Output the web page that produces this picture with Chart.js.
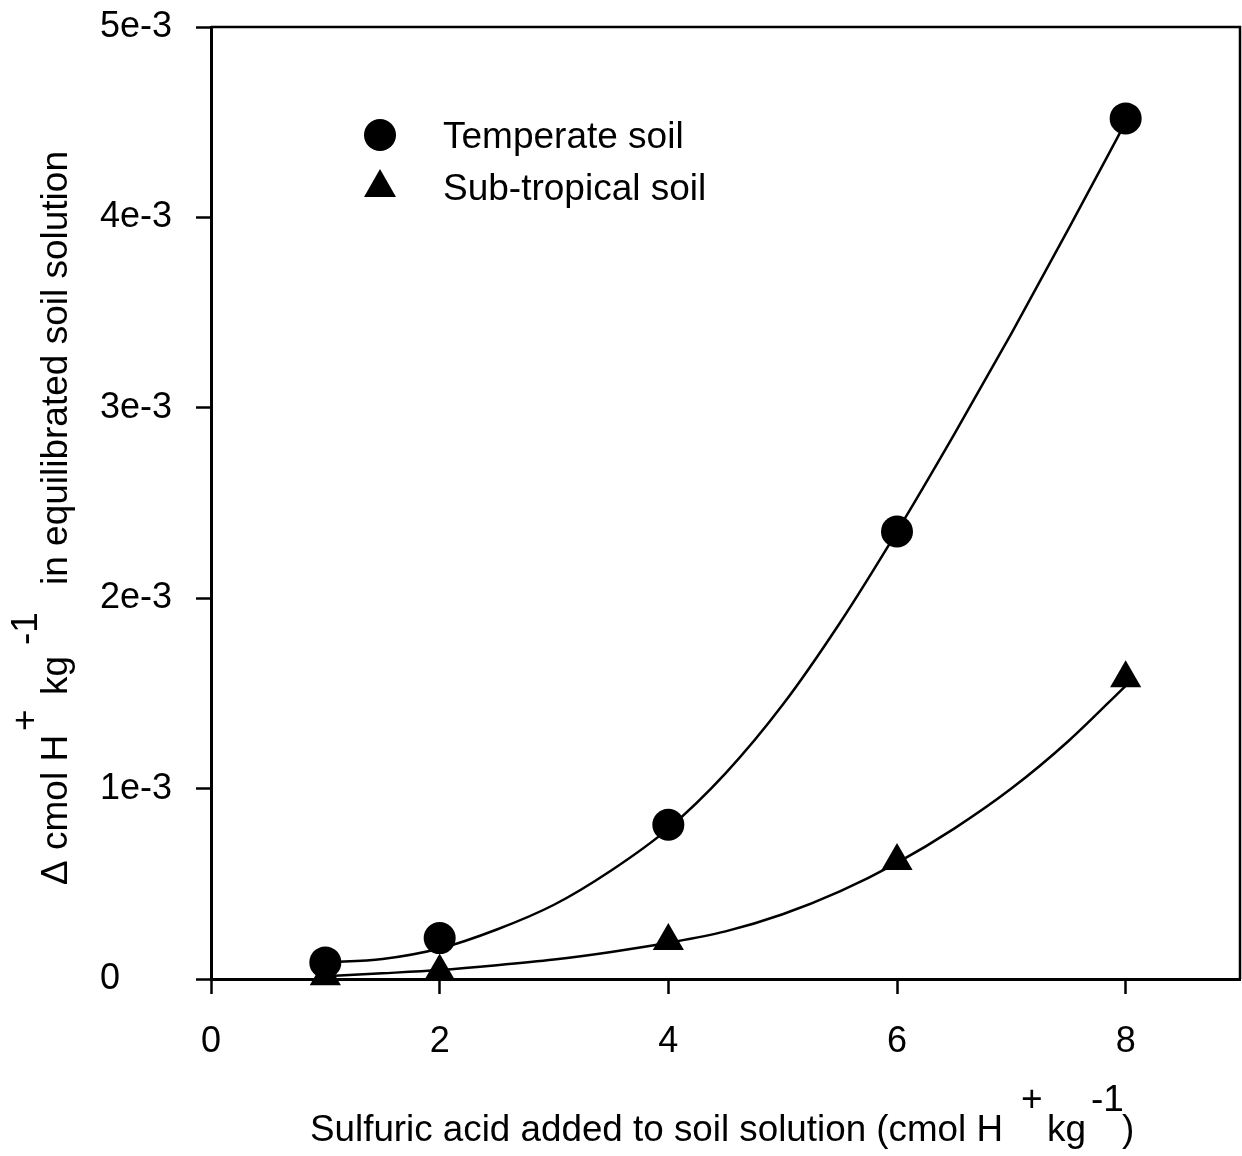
<!DOCTYPE html>
<html>
<head>
  <title>Soil solution acidity</title>
  <script src="https://cdn.jsdelivr.net/npm/chart.js@4.4.1/dist/chart.umd.min.js"></script>
  <style>
    body { margin: 0; background: #fff; }
  </style>
</head>
<body>
  <canvas id="chart" width="1242" height="1156"></canvas>

  <script>
    // Datos
    const doses = [1, 2, 4, 6, 8];
    const temperate = [0.000087, 0.000215, 0.00081, 0.00235, 0.00452];
    const subtropical = [0.000015, 0.00004, 0.0002, 0.00062, 0.00158];

    const fitX = [1, 1.5, 2, 2.5, 3, 3.5, 4, 4.5, 5, 5.5, 6, 6.5, 7, 7.5, 8];
    const temperateFit = [0.087, 0.105, 0.16, 0.26, 0.39, 0.57, 0.79, 1.08, 1.44, 1.87, 2.35, 2.86, 3.39, 3.94, 4.5].map(v => v / 1000);
    const subtropicalFit = [0.015, 0.03, 0.047, 0.072, 0.102, 0.142, 0.19, 0.25, 0.34, 0.46, 0.61, 0.79, 1.0, 1.25, 1.54].map(v => v / 1000);

    const seriesNames = ['Temperate soil', 'Sub-tropical soil'];
    const yTickLabels = ['0', '1e-3', '2e-3', '3e-3', '4e-3', '5e-3'];
    const xTitle = ['Sulfuric acid added to soil solution (cmol H', '+', 'kg', '-1', ')'];
    const yTitle = ['\u0394 cmol H', '+', 'kg', '-1', 'in equilibrated soil solution'];

    const FONT = '"Liberation Sans", Arial, sans-serif';

    function pts(xs, ys) {
      return xs.map((x, i) => ({ x: x, y: ys[i] }));
    }

    // piezas de titulo: [inicio, ancho maximo, superindice]
    const xTitleLayout = [[310, 693, 0], [1021, 0, 1], [1047, 0, 0], [1091, 0, 1], [1122, 0, 0]];
    const yTitleLayout = [[0, 0, 0], [154, 0, 1], [190, 0, 0], [240, 0, 1], [300, 0, 0]];

    // Titulos con superindices, leyenda y marco
    const extras = {
      id: 'extras',
      afterDraw(chart) {
        const ctx = chart.ctx;
        const a = chart.chartArea;
        ctx.save();

        // marco
        ctx.strokeStyle = '#000';
        ctx.lineWidth = 2.5;
        ctx.beginPath();
        ctx.moveTo(a.left, a.top);
        ctx.lineTo(a.right, a.top);
        ctx.lineTo(a.right, a.bottom);
        ctx.stroke();

        ctx.fillStyle = '#000';
        ctx.font = '37px ' + FONT;
        ctx.textBaseline = 'alphabetic';
        ctx.textAlign = 'left';

        // titulo eje x
        xTitle.forEach((t, i) => {
          const [x, w, sup] = xTitleLayout[i];
          const y = sup ? 1111 : 1141;
          if (w) ctx.fillText(t, x, y, w); else ctx.fillText(t, x, y);
        });

        // titulo eje y (rotado)
        ctx.translate(67, 885);
        ctx.rotate(-Math.PI / 2);
        yTitle.forEach((t, i) => {
          const [u, w, sup] = yTitleLayout[i];
          const v = sup ? -30 : 0;
          if (w) ctx.fillText(t, u, v, w); else ctx.fillText(t, u, v);
        });
        ctx.restore();

        // leyenda
        ctx.save();
        ctx.fillStyle = '#000';
        ctx.beginPath();
        ctx.arc(380, 135, 16, 0, Math.PI * 2);
        ctx.fill();
        ctx.beginPath();
        ctx.moveTo(380, 169);
        ctx.lineTo(396, 197);
        ctx.lineTo(364, 197);
        ctx.closePath();
        ctx.fill();
        ctx.font = '37px ' + FONT;
        ctx.fillText(seriesNames[0], 443, 148);
        ctx.fillText(seriesNames[1], 443, 200);
        ctx.restore();
      }
    };

    const lineStyle = {
      showLine: true,
      borderColor: '#000',
      borderWidth: 2.5,
      pointRadius: 0,
      cubicInterpolationMode: 'monotone',
      fill: false,
      order: 2
    };

    const chart = new Chart(document.getElementById('chart'), {
      type: 'scatter',
      data: {
        datasets: [
          Object.assign({ label: seriesNames[0] + ' fit', data: pts(fitX, temperateFit) }, lineStyle),
          Object.assign({ label: seriesNames[1] + ' fit', data: pts(fitX, subtropicalFit) }, lineStyle),
          {
            label: seriesNames[0],
            data: pts(doses, temperate),
            pointStyle: 'circle',
            pointRadius: 16,
            pointBackgroundColor: '#000',
            pointBorderWidth: 0,
            clip: false,
            order: 1
          },
          {
            label: seriesNames[1],
            data: pts(doses, subtropical),
            pointStyle: 'triangle',
            pointRadius: 18,
            pointBackgroundColor: '#000',
            pointBorderWidth: 0,
            clip: false,
            order: 1
          }
        ]
      },
      options: {
        responsive: false,
        animation: false,
        events: [],
        layout: { autoPadding: false, padding: { left: 100, top: 27, right: 2, bottom: 0 } },
        plugins: {
          legend: { display: false },
          tooltip: { enabled: false }
        },
        scales: {
          x: {
            type: 'linear',
            min: 0,
            max: 9,
            afterFit: s => { s.height = 177; s.paddingLeft = 0; s.paddingRight = 0; },
            border: { color: '#000', width: 3 },
            grid: { drawOnChartArea: false, tickLength: 15, tickWidth: 2.5, tickColor: '#000' },
            ticks: {
              stepSize: 2,
              includeBounds: false,
              color: '#000',
              padding: 26,
              font: { family: FONT, size: 36 }
            }
          },
          y: {
            min: 0,
            max: 0.005,
            afterFit: s => { s.width = 111; },
            border: { color: '#000', width: 3 },
            grid: { drawOnChartArea: false, tickLength: 15, tickWidth: 2.5, tickColor: '#000' },
            ticks: {
              stepSize: 0.001,
              color: '#000',
              crossAlign: 'far',
              font: { family: FONT, size: 36 },
              callback: (v, i) => yTickLabels[i]
            }
          }
        }
      },
      plugins: [extras]
    });
  </script>
</body>
</html>
